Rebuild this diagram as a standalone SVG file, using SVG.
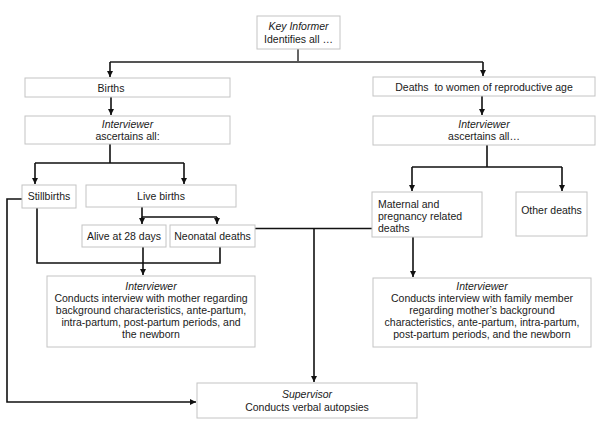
<svg xmlns="http://www.w3.org/2000/svg" width="600" height="426" viewBox="0 0 600 426">
<defs>
<style>
.box{fill:#fff;stroke:#c4c4c4;stroke-width:1}
.t{font-family:"Liberation Sans",Arial,sans-serif;font-size:10.5px;fill:#1a1a1a}
.c{text-anchor:middle}
.i{font-style:italic}
.ln{fill:none;stroke:#111;stroke-width:1.6}
.top{fill:none;stroke:#555;stroke-width:1.8}
</style>
<marker id="ah" markerUnits="userSpaceOnUse" markerWidth="7" markerHeight="7" refX="6" refY="3.5" orient="auto">
<path d="M0,0.5 L6,3.5 L0,6.5 z" fill="#111"/>
</marker>
</defs>
<rect width="600" height="426" fill="#fff"/>

<g id="connectors">
<path class="top" d="M298,49 V62 M110,62 H483"/>
<path class="ln" d="M110,62 V77" marker-end="url(#ah)"/>
<path class="ln" d="M483,62 V76" marker-end="url(#ah)"/>
<path class="ln" d="M111,97 V115" marker-end="url(#ah)"/>
<path class="ln" d="M482,96 V115" marker-end="url(#ah)"/>
<path class="ln" d="M110,144 V163 M35,163 H184"/>
<path class="ln" d="M35,163 V184" marker-end="url(#ah)"/>
<path class="ln" d="M184,163 V184" marker-end="url(#ah)"/>
<path class="ln" d="M487,145 V167 M412,167 H562"/>
<path class="ln" d="M412,167 V191" marker-end="url(#ah)"/>
<path class="ln" d="M562,167 V191" marker-end="url(#ah)"/>
<path class="ln" d="M142,207 V217 H217"/>
<path class="ln" d="M142,217 V224" marker-end="url(#ah)"/>
<path class="ln" d="M217,217 V224" marker-end="url(#ah)"/>
<path class="ln" d="M37,208 V263 H220 V247"/>
<path class="ln" d="M143,247 V275" marker-end="url(#ah)"/>
<path class="ln" stroke-width="2" d="M255,228.5 H372"/>
<path class="ln" d="M314,228.5 V382" marker-end="url(#ah)"/>
<path class="ln" stroke-width="2" d="M22,199 H7 V402 H196" marker-end="url(#ah)"/>
<path class="ln" d="M413,237 V277" marker-end="url(#ah)"/>
</g>

<g id="key-informer">
<rect class="box" x="257" y="16" width="83" height="33"/>
<text class="t c i" x="298.5" y="30">Key Informer</text>
<text class="t c" x="298.5" y="43">Identifies all …</text>
</g>

<g id="births">
<rect class="box" x="25" y="78" width="205" height="19"/>
<text class="t c" x="111" y="91.5">Births</text>
</g>

<g id="interviewer-births">
<rect class="box" x="25" y="116" width="205" height="28"/>
<text class="t c i" x="127.5" y="127.5">Interviewer</text>
<text class="t c" x="127.5" y="139.5">ascertains all:</text>
</g>

<g id="deaths">
<rect class="box" x="373" y="77" width="222" height="19"/>
<text class="t c" x="484" y="90.5">Deaths&#160; to women of reproductive age</text>
</g>

<g id="interviewer-deaths">
<rect class="box" x="373" y="116" width="222" height="29"/>
<text class="t c i" x="484" y="127.5">Interviewer</text>
<text class="t c" x="484" y="139.5">ascertains all…</text>
</g>

<g id="stillbirths">
<rect class="box" x="22" y="185" width="54" height="23"/>
<text class="t c" x="49" y="200">Stillbirths</text>
</g>

<g id="live-births">
<rect class="box" x="86" y="185" width="150" height="22"/>
<text class="t c" x="161" y="200">Live births</text>
</g>

<g id="alive">
<rect class="box" x="82" y="225" width="84" height="22"/>
<text class="t c" x="124" y="239.5">Alive at 28 days</text>
</g>

<g id="neonatal">
<rect class="box" x="170" y="225" width="85" height="22"/>
<text class="t c" x="212.5" y="239.5">Neonatal deaths</text>
</g>

<g id="maternal">
<rect class="box" x="372" y="192" width="110" height="45"/>
<text class="t" x="378" y="208">Maternal and</text>
<text class="t" x="378" y="220">pregnancy related</text>
<text class="t" x="378" y="232">deaths</text>
</g>

<g id="other-deaths">
<rect class="box" x="516" y="192" width="71" height="44"/>
<text class="t c" x="551.5" y="213.5">Other deaths</text>
</g>

<g id="interviewer-mother">
<rect class="box" x="47" y="276" width="208" height="71"/>
<text class="t c i" x="151" y="290">Interviewer</text>
<text class="t c" x="151" y="302">Conducts interview with mother regarding</text>
<text class="t c" x="151" y="314">background characteristics, ante-partum,</text>
<text class="t c" x="151" y="326">intra-partum, post-partum periods, and</text>
<text class="t c" x="151" y="338">the newborn</text>
</g>

<g id="interviewer-family">
<rect class="box" x="373" y="278" width="218" height="69"/>
<text class="t c i" x="482" y="290">Interviewer</text>
<text class="t c" x="482" y="302">Conducts interview with family member</text>
<text class="t c" x="482" y="314">regarding mother’s background</text>
<text class="t c" x="482" y="326">characteristics, ante-partum, intra-partum,</text>
<text class="t c" x="482" y="338">post-partum periods, and the newborn</text>
</g>

<g id="supervisor">
<rect class="box" x="197" y="383" width="220" height="35"/>
<text class="t c i" x="307" y="397.5">Supervisor</text>
<text class="t c" x="307" y="410.5">Conducts verbal autopsies</text>
</g>
</svg>
